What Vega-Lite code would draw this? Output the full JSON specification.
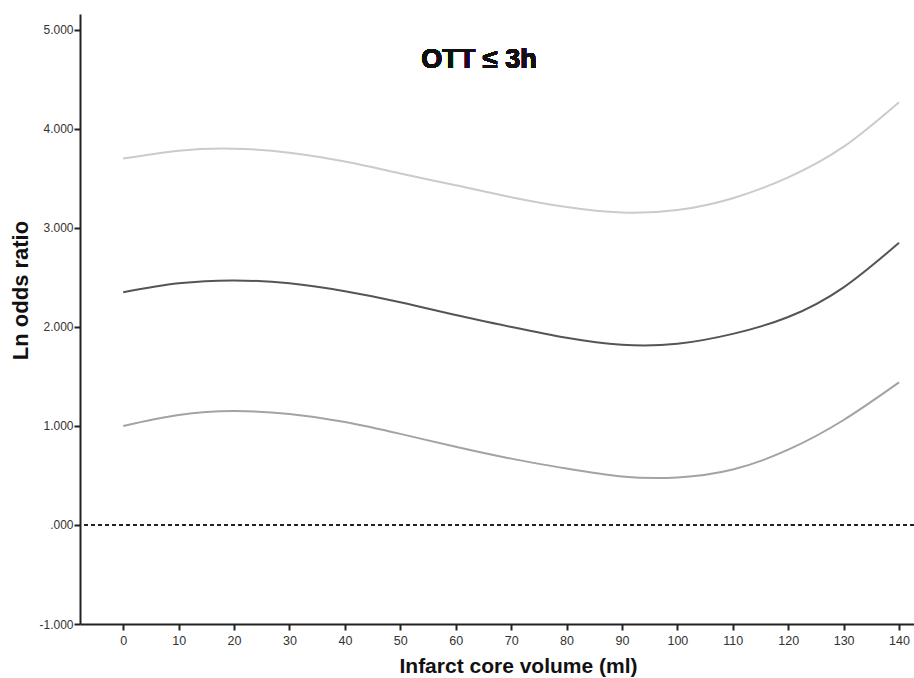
{
  "$schema": "https://vega.github.io/schema/vega-lite/v6.json",
  "width": 834,
  "height": 610,
  "autosize": {"type": "none"},
  "padding": {"left": 80, "top": 14, "right": 0, "bottom": 54},
  "background": "white",
  "config": {
    "view": {"stroke": null},
    "font": "Liberation Sans"
  },
  "data": {
    "values": [
      {"x": 0, "y": 3.70, "s": "upper"}, {"x": 10, "y": 3.78, "s": "upper"}, {"x": 20, "y": 3.80, "s": "upper"}, {"x": 30, "y": 3.76, "s": "upper"}, {"x": 40, "y": 3.67, "s": "upper"}, {"x": 50, "y": 3.55, "s": "upper"}, {"x": 60, "y": 3.43, "s": "upper"}, {"x": 70, "y": 3.31, "s": "upper"}, {"x": 80, "y": 3.21, "s": "upper"}, {"x": 90, "y": 3.155, "s": "upper"}, {"x": 100, "y": 3.18, "s": "upper"}, {"x": 110, "y": 3.30, "s": "upper"}, {"x": 120, "y": 3.51, "s": "upper"}, {"x": 130, "y": 3.82, "s": "upper"}, {"x": 140, "y": 4.27, "s": "upper"},
      {"x": 0, "y": 2.35, "s": "mid"}, {"x": 10, "y": 2.44, "s": "mid"}, {"x": 20, "y": 2.47, "s": "mid"}, {"x": 30, "y": 2.44, "s": "mid"}, {"x": 40, "y": 2.36, "s": "mid"}, {"x": 50, "y": 2.25, "s": "mid"}, {"x": 60, "y": 2.12, "s": "mid"}, {"x": 70, "y": 2.00, "s": "mid"}, {"x": 80, "y": 1.89, "s": "mid"}, {"x": 90, "y": 1.82, "s": "mid"}, {"x": 100, "y": 1.83, "s": "mid"}, {"x": 110, "y": 1.93, "s": "mid"}, {"x": 120, "y": 2.10, "s": "mid"}, {"x": 130, "y": 2.40, "s": "mid"}, {"x": 140, "y": 2.85, "s": "mid"},
      {"x": 0, "y": 1.00, "s": "lower"}, {"x": 10, "y": 1.11, "s": "lower"}, {"x": 20, "y": 1.15, "s": "lower"}, {"x": 30, "y": 1.12, "s": "lower"}, {"x": 40, "y": 1.04, "s": "lower"}, {"x": 50, "y": 0.92, "s": "lower"}, {"x": 60, "y": 0.79, "s": "lower"}, {"x": 70, "y": 0.67, "s": "lower"}, {"x": 80, "y": 0.57, "s": "lower"}, {"x": 90, "y": 0.49, "s": "lower"}, {"x": 100, "y": 0.48, "s": "lower"}, {"x": 110, "y": 0.56, "s": "lower"}, {"x": 120, "y": 0.76, "s": "lower"}, {"x": 130, "y": 1.06, "s": "lower"}, {"x": 140, "y": 1.44, "s": "lower"}
    ]
  },
  "layer": [
    {
      "mark": {"type": "rule", "strokeDash": [4, 3], "color": "#222", "strokeWidth": 1},
      "encoding": {"y": {"datum": 0, "type": "quantitative", "scale": {"domain": [-1, 5.16], "nice": false}}}
    },
    {
      "mark": {"type": "line", "interpolate": "natural", "strokeWidth": 2},
      "encoding": {
        "x": {
          "field": "x", "type": "quantitative",
          "scale": {"domain": [-7.8, 142.7], "nice": false, "zero": false},
          "axis": {
            "values": [0, 10, 20, 30, 40, 50, 60, 70, 80, 90, 100, 110, 120, 130, 140],
            "grid": false, "domainColor": "#222", "domainWidth": 2,
            "tickColor": "#222", "tickWidth": 2, "tickSize": 6,
            "labelFontSize": 12.5, "labelColor": "#333", "labelPadding": 4, "labelFont": "Liberation Sans",
            "title": "Infarct core volume (ml)", "titleFontSize": 21, "titleFontWeight": "bold",
            "titleColor": "#111", "titleFont": "Liberation Sans",
            "titleX": 438, "titleY": 42, "titleBaseline": "middle", "titleAlign": "center"
          }
        },
        "y": {
          "field": "y", "type": "quantitative",
          "scale": {"domain": [-1, 5.16], "nice": false, "zero": false},
          "axis": {
            "values": [-1, 0, 1, 2, 3, 4, 5],
            "labelExpr": "datum.value == 0 ? '.000' : (datum.value < 0 ? '-' + format(-datum.value, '.3f') : format(datum.value, '.3f'))",
            "grid": false, "domainColor": "#222", "domainWidth": 2,
            "tickColor": "#222", "tickWidth": 2, "tickSize": 6,
            "labelFontSize": 12, "labelColor": "#333", "labelPadding": 1, "labelFont": "Liberation Sans",
            "title": "Ln odds ratio", "titleFontSize": 22, "titleFontWeight": "bold",
            "titleColor": "#111", "titleFont": "Liberation Sans",
            "titleX": -60, "titleY": 276, "titleAngle": -90, "titleBaseline": "middle", "titleAlign": "center"
          }
        },
        "color": {
          "field": "s", "type": "nominal",
          "scale": {"domain": ["upper", "mid", "lower"], "range": ["#cbcbcb", "#555555", "#a3a3a3"]},
          "legend": null
        }
      }
    },
    {
      "mark": {"type": "text", "fontSize": 27, "fontWeight": "bold", "font": "Liberation Sans", "color": "#111", "align": "center", "baseline": "middle"},
      "encoding": {
        "x": {"datum": 64.2, "type": "quantitative"},
        "y": {"datum": 4.7, "type": "quantitative"},
        "text": {"value": "OTT ≤ 3h"}
      }
    }
  ]
}
